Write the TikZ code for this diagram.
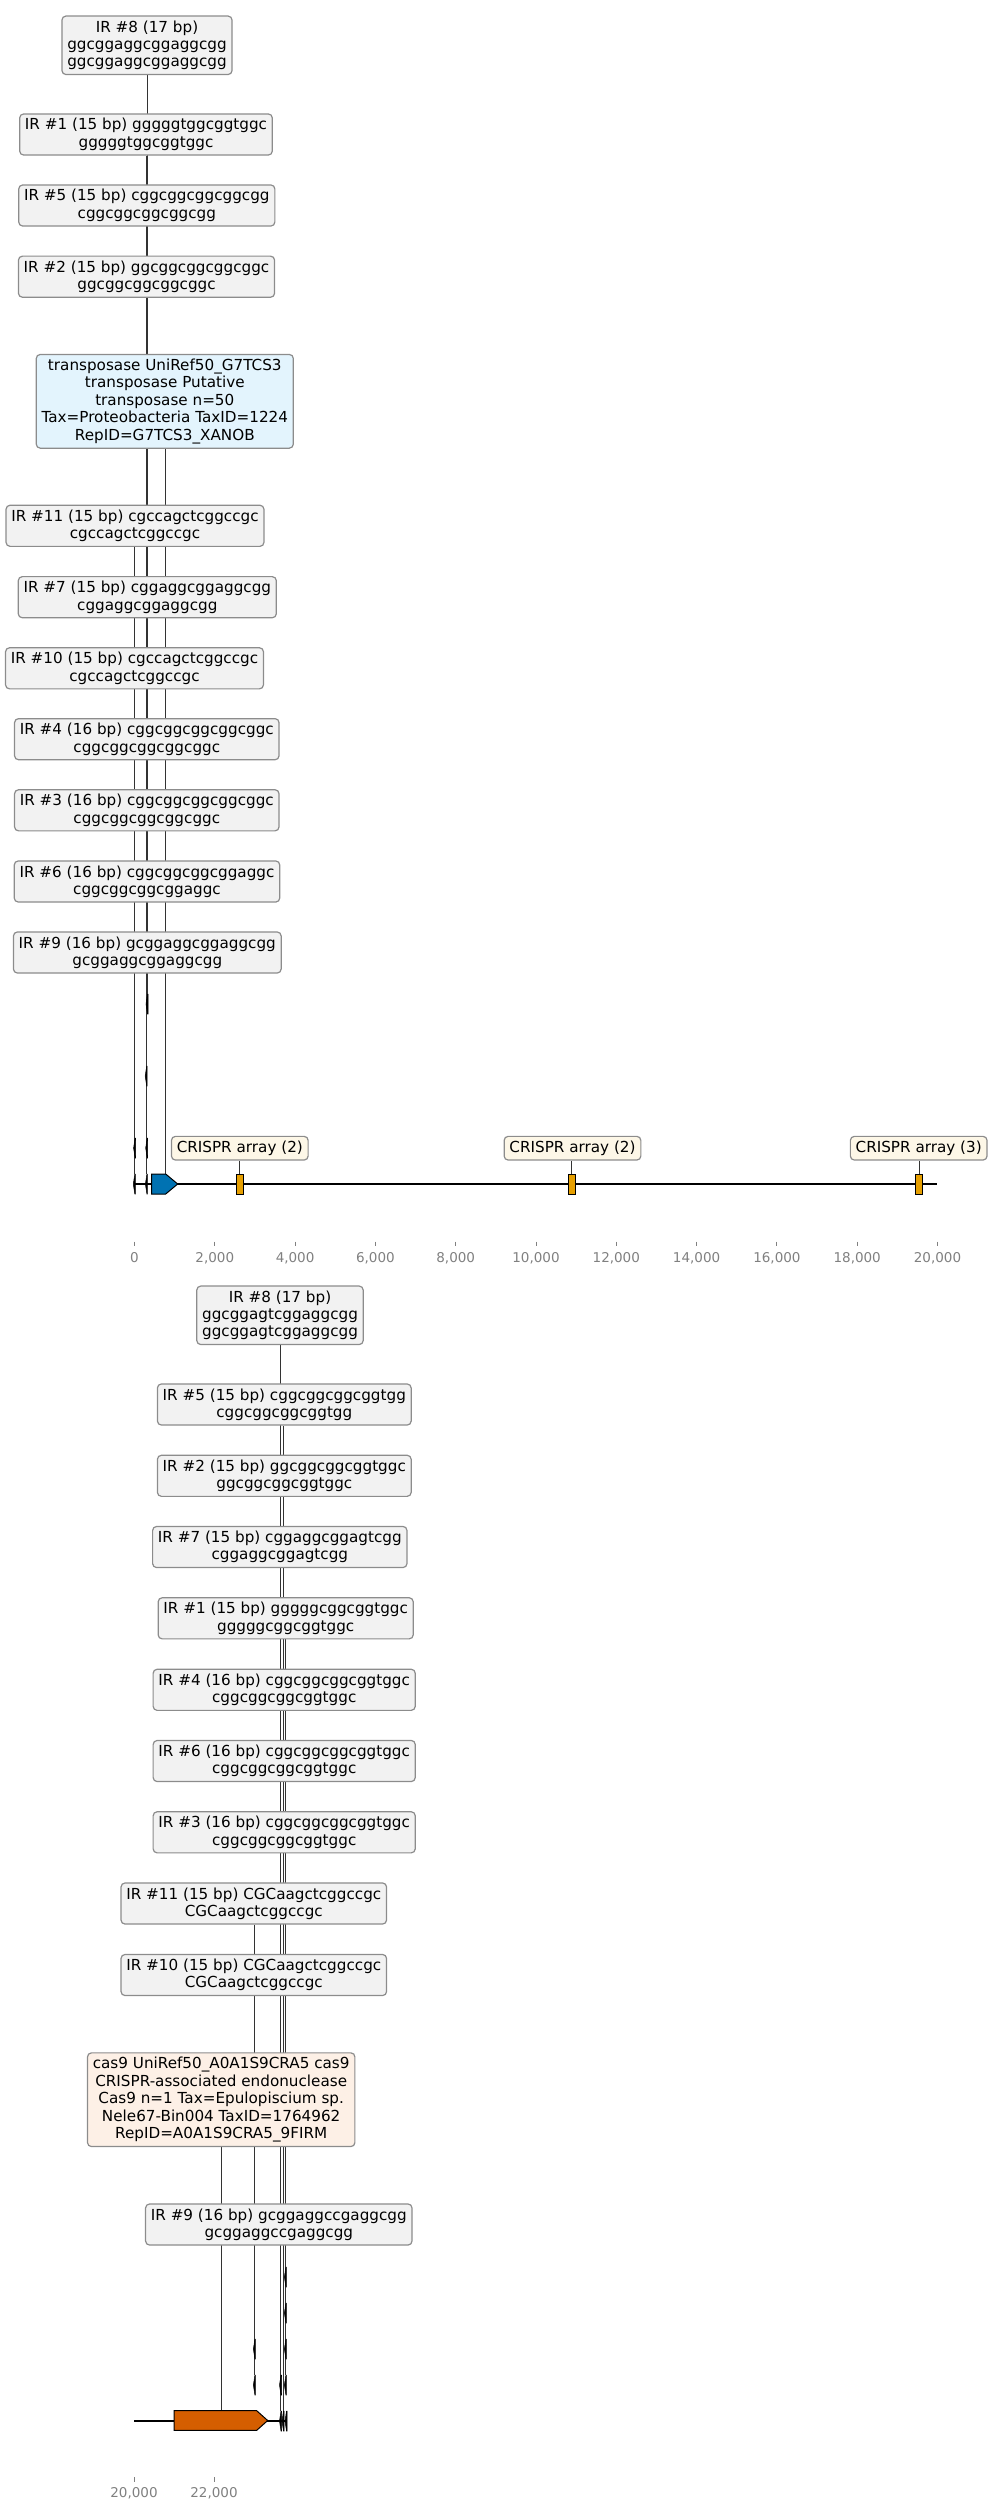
\documentclass[tikz,border=0pt]{standalone}
\usepackage{fontspec}
\setmainfont{DejaVu Sans}
\usetikzlibrary{calc}
\pgfdeclarelayer{bg}
\pgfsetlayers{bg,main}
\definecolor{irfill}{HTML}{F2F2F2}
\definecolor{tpfill}{HTML}{E3F4FD}
\definecolor{casfill}{HTML}{FDF0E6}
\definecolor{crfill}{HTML}{FDF7E7}
\definecolor{tpblue}{HTML}{0072B2}
\definecolor{casorange}{HTML}{D55E00}
\definecolor{crorange}{HTML}{E69F00}
\definecolor{boxedge}{HTML}{8C8C8C}
\definecolor{tickgray}{HTML}{808080}
% small repeat feature drawn at a named centre point
\newcommand\repmark[1]{\filldraw[black, line width=0.5pt, shift={(#1)}] (-1.2,0) -- (0.3,-10) -- (0.8,-10) -- (0.8,10) -- (0.3,10) -- cycle;}
\begin{document}
\begin{tikzpicture}[x=1pt,y=-1pt,
  lbl/.style={draw=boxedge, line width=1.2pt, rounded corners=4pt, align=center,
    inner xsep=5.3pt, inner ysep=4.5pt, font=\fontsize{15.2}{17.4}\selectfont, text=black},
  irbox/.style={lbl, fill=irfill},
  tpbox/.style={lbl, fill=tpfill},
  casbox/.style={lbl, fill=casfill},
  crbox/.style={lbl, fill=crfill},
  conn/.style={draw=black!80, line width=0.9pt},
  seqline/.style={draw=black, line width=2pt},
  axtick/.style={draw=tickgray, line width=0.9pt},
  ticklbl/.style={text=tickgray, font=\fontsize{13.5}{16}\selectfont, inner sep=0pt, anchor=base},
]
\useasboundingbox (0,0) rectangle (989,2510);

% ---------------- upper track (0 - 20,000) ----------------
\node[irbox] (t8) at (147,45.3) {IR \#8 (17 bp)\\ggcggaggcggaggcgg\\ggcggaggcggaggcgg};
\node[irbox] (t1) at (146,134.5) {IR \#1 (15 bp) gggggtggcggtggc\\gggggtggcggtggc};
\node[irbox] (t5) at (146.8,205.5) {IR \#5 (15 bp) cggcggcggcggcgg\\cggcggcggcggcgg};
\node[irbox] (t2) at (146.5,276.7) {IR \#2 (15 bp) ggcggcggcggcggc\\ggcggcggcggcggc};
\node[tpbox] (ttp) at (164.8,401.3) {transposase UniRef50\_G7TCS3\\transposase Putative\\transposase n=50\\Tax=Proteobacteria TaxID=1224\\RepID=G7TCS3\_XANOB};
\node[irbox] (t11) at (135,525.8) {IR \#11 (15 bp) cgccagctcggccgc\\cgccagctcggccgc};
\node[irbox] (t7) at (147.3,597.2) {IR \#7 (15 bp) cggaggcggaggcgg\\cggaggcggaggcgg};
\node[irbox] (t10) at (134.5,668.3) {IR \#10 (15 bp) cgccagctcggccgc\\cgccagctcggccgc};
\node[irbox] (t4) at (146.8,739.2) {IR \#4 (16 bp) cggcggcggcggcggc\\cggcggcggcggcggc};
\node[irbox] (t3) at (146.8,810.3) {IR \#3 (16 bp) cggcggcggcggcggc\\cggcggcggcggcggc};
\node[irbox] (t6) at (147,881.5) {IR \#6 (16 bp) cggcggcggcggaggc\\cggcggcggcggaggc};
\node[irbox] (t9) at (147.3,952.5) {IR \#9 (16 bp) gcggaggcggaggcgg\\gcggaggcggaggcgg};
\node[crbox] (tc1) at (239.8,1148.2) {CRISPR array (2)};
\node[crbox] (tc2) at (572.5,1148.2) {CRISPR array (2)};
\node[crbox] (tc3) at (918.7,1148.2) {CRISPR array (3)};

% feature positions
\coordinate (a0) at (134.5,1184);
\coordinate (a1) at (134.8,1148);
\coordinate (b0) at (146.6,1184);
\coordinate (b1) at (146.9,1148);
\coordinate (b3) at (146.4,1076);
\coordinate (b5) at (147.2,1004);
\coordinate (tpf) at (165.3,1174);
\coordinate (cr1) at (239.5,1174);
\coordinate (cr2) at (571.5,1174);
\coordinate (cr3) at (919,1174);
\coordinate (ts) at (134.5,1184);
\coordinate (te) at (937,1184);

\begin{pgfonlayer}{bg}
  \draw[conn] (b5 |- t8.south) -- ($(b5)+(0,-10)$);
  \draw[conn] (b3 |- t1.south) -- ($(b3)+(0,-10)$);
  \draw[conn] (b1 |- t5.south) -- ($(b1)+(0,-10)$);
  \foreach \n in {t2,t7,t4,t3,t6,t9}
    \draw[conn] (b0 |- \n.south) -- ($(b0)+(0,-10)$);
  \draw[conn] (a1 |- t11.south) -- ($(a1)+(0,-10)$);
  \draw[conn] (a0 |- t10.south) -- ($(a0)+(0,-10)$);
  \draw[conn] (tpf |- ttp.south) -- (tpf);
  \draw[conn] (cr1 |- tc1.south) -- (cr1);
  \draw[conn] (cr2 |- tc2.south) -- (cr2);
  \draw[conn] (cr3 |- tc3.south) -- (cr3);
  \draw[seqline] (ts) -- (te);
\end{pgfonlayer}

% genes and arrays on the upper track
\filldraw[fill=tpblue, draw=black, line width=1pt] (151.7,1174) -- (165.7,1174) -- (177.7,1184) -- (165.7,1194) -- (151.7,1194) -- cycle;
\foreach \c in {cr1,cr2,cr3}
  \filldraw[fill=crorange, draw=black, line width=1pt, shift={(\c)}] (-3.5,0) rectangle (3.5,20);
\foreach \c in {a0,a1,b0,b1,b3,b5} { \repmark{\c} }

% upper axis
\foreach \k/\t in {0/0,1/{2,000},2/{4,000},3/{6,000},4/{8,000},5/{10,000},6/{12,000},7/{14,000},8/{16,000},9/{18,000},10/{20,000}} {
  \coordinate (uk\k) at ({134.5+80.3*\k},1241.5);
  \draw[axtick] (uk\k) -- ++(0,4.5);
  \node[ticklbl] (ul\k) at ({134.5+80.3*\k},1262.4) {\t};
}

% ---------------- lower track (20,000 - ) ----------------
\node[irbox] (b8n) at (280,1315.3) {IR \#8 (17 bp)\\ggcggagtcggaggcgg\\ggcggagtcggaggcgg};
\node[irbox] (b5n) at (284.3,1404.5) {IR \#5 (15 bp) cggcggcggcggtgg\\cggcggcggcggtgg};
\node[irbox] (b2n) at (284.3,1475.8) {IR \#2 (15 bp) ggcggcggcggtggc\\ggcggcggcggtggc};
\node[irbox] (b7n) at (279.8,1547) {IR \#7 (15 bp) cggaggcggagtcgg\\cggaggcggagtcgg};
\node[irbox] (b1n) at (285.7,1618.3) {IR \#1 (15 bp) gggggcggcggtggc\\gggggcggcggtggc};
\node[irbox] (b4n) at (284.2,1689.8) {IR \#4 (16 bp) cggcggcggcggtggc\\cggcggcggcggtggc};
\node[irbox] (b6n) at (284.2,1761) {IR \#6 (16 bp) cggcggcggcggtggc\\cggcggcggcggtggc};
\node[irbox] (b3n) at (284.2,1832.3) {IR \#3 (16 bp) cggcggcggcggtggc\\cggcggcggcggtggc};
\node[irbox] (b11n) at (253.8,1903.5) {IR \#11 (15 bp) CGCaagctcggccgc\\CGCaagctcggccgc};
\node[irbox] (b10n) at (253.8,1975) {IR \#10 (15 bp) CGCaagctcggccgc\\CGCaagctcggccgc};
\node[casbox] (bcas) at (221.2,2099.7) {cas9 UniRef50\_A0A1S9CRA5 cas9\\CRISPR-associated endonuclease\\Cas9 n=1 Tax=Epulopiscium sp.\\Nele67-Bin004 TaxID=1764962\\RepID=A0A1S9CRA5\_9FIRM};
\node[irbox] (b9n) at (278.8,2224.5) {IR \#9 (16 bp) gcggaggccgaggcgg\\gcggaggccgaggcgg};

\coordinate (c1) at (254.6,2385);
\coordinate (c2) at (254.6,2349);
\coordinate (d0) at (280.7,2421);
\coordinate (d1) at (280.7,2385);
\coordinate (e0) at (283.2,2421);
\coordinate (g0) at (286.2,2421);
\coordinate (g1) at (285.6,2385);
\coordinate (g2) at (285.6,2349);
\coordinate (g3) at (285.6,2313);
\coordinate (g4) at (285.6,2277);
\coordinate (casf) at (221.7,2410.7);
\coordinate (bs) at (134,2421);
\coordinate (be) at (287,2421);

\begin{pgfonlayer}{bg}
  \draw[conn] (d1 |- b8n.south) -- ($(d1)+(0,-10)$);
  \draw[conn] (d0 |- b7n.south) -- ($(d0)+(0,-10)$);
  \draw[conn] (d0 |- b9n.south) -- ($(d0)+(0,-10)$);
  \draw[conn] (e0 |- b5n.south) -- ($(e0)+(0,-10)$);
  \draw[conn] (e0 |- b2n.south) -- ($(e0)+(0,-10)$);
  \draw[conn] (g4 |- b1n.south) -- ($(g4)+(0,-10)$);
  \draw[conn] (g3 |- b4n.south) -- ($(g3)+(0,-10)$);
  \draw[conn] (g2 |- b6n.south) -- ($(g2)+(0,-10)$);
  \draw[conn] (g1 |- b3n.south) -- ($(g1)+(0,-10)$);
  \draw[conn] (c2 |- b11n.south) -- ($(c2)+(0,-10)$);
  \draw[conn] (c1 |- b10n.south) -- ($(c1)+(0,-10)$);
  \draw[conn] (casf |- bcas.south) -- (casf);
  \draw[seqline] (bs) -- (be);
\end{pgfonlayer}

\filldraw[fill=casorange, draw=black, line width=1pt] (174,2410.7) -- (256.7,2410.7) -- (267.7,2420.5) -- (256.7,2430.3) -- (174,2430.3) -- cycle;
\foreach \c in {c1,c2,d0,d1,e0,g0,g1,g2,g3,g4} { \repmark{\c} }

% lower axis
\foreach \k/\t in {0/{20,000},1/{22,000}} {
  \coordinate (lk\k) at ({134+80*\k},2477);
  \draw[axtick] (lk\k) -- ++(0,4.5);
  \node[ticklbl] (ll\k) at ({134+80*\k},2497.4) {\t};
}
\end{tikzpicture}
\end{document}
